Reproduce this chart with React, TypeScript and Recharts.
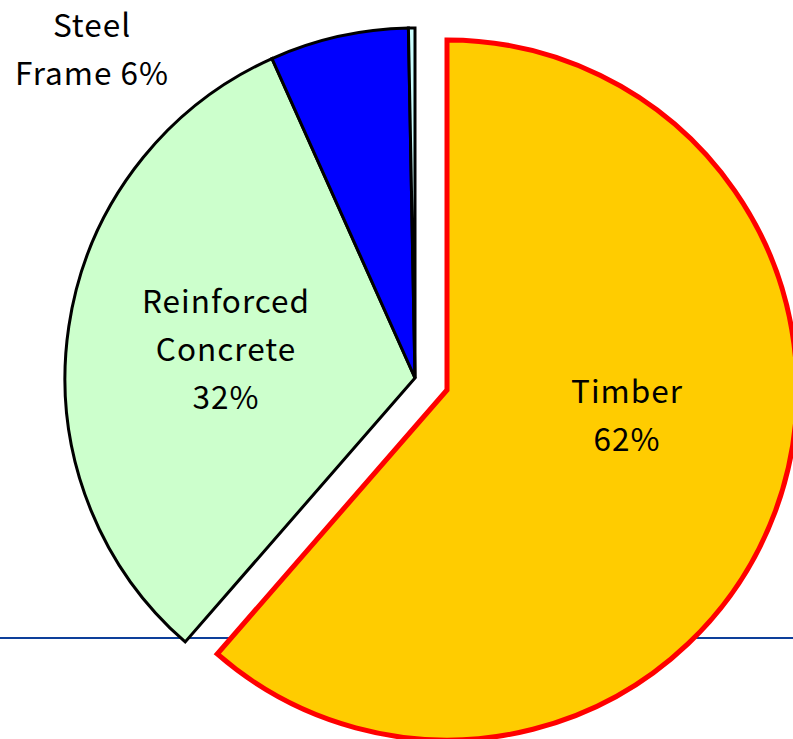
import React from 'react';
import { PieChart, Pie, Cell } from 'recharts';

// Structural share by building type
const CATEGORIES = ['Timber', 'Reinforced Concrete', 'Steel Frame', 'Other'];
const SHARES = [61.4, 31.9, 6.4, 0.3];
const LABEL_LINES = [['Timber', '62%'], ['Reinforced', 'Concrete', '32%'], ['Steel', 'Frame 6%'], []];

const FILLS = ['#ffcc00', '#ccffcc', '#0000ff', '#ccffff'];
const FONT = '"Noto Sans CJK JP", "Noto Sans", sans-serif';
const EXPLODED = 0; // timber slice pulled out

// label anchor offsets from each pie's centre: [dx, first baseline dy]
const LABEL_OFFSET: Record<number, [number, number]> = {
  0: [180, 13],
  1: [-189, -65],
  2: [-323, -341],
};
const LINE_H = 48;

const data = CATEGORIES.map((name, i) => ({ name, value: SHARES[i] }));

function renderLabel(show: (i: number) => boolean) {
  return (props: any) => {
    const { cx, cy, index } = props;
    if (!show(index) || !LABEL_OFFSET[index]) return null;
    const [dx, dy] = LABEL_OFFSET[index];
    return (
      <text
        key={`lbl-${index}`}
        x={cx + dx}
        y={cy + dy}
        textAnchor="middle"
        fill="#000"
        fontSize={31.5}
        letterSpacing={1}
        fontFamily={FONT}
      >
        {LABEL_LINES[index].map((t, j) => (
          <tspan key={j} x={cx + dx} dy={j === 0 ? 0 : LINE_H}>
            {t}
          </tspan>
        ))}
      </text>
    );
  };
}

export default function App() {
  return (
    <div style={{ position: 'absolute', left: 0, top: 0, width: 793, height: 739, overflow: 'hidden', background: '#fff' }}>
      {/* thin blue rule running behind the pie */}
      <div style={{ position: 'absolute', left: 0, top: 637, width: 793, height: 1.5, background: '#0d3f9a' }} />
      <PieChart width={793} height={739} margin={{ top: 0, right: 0, bottom: 0, left: 0 }} style={{ position: 'absolute', left: 0, top: 0 }}>
        <Pie
          data={data}
          dataKey="value"
          nameKey="name"
          cx={415}
          cy={378}
          outerRadius={350}
          startAngle={90}
          endAngle={-270}
          stroke="#000"
          strokeWidth={3}
          labelLine={false}
          label={renderLabel((i) => i !== EXPLODED)}
          isAnimationActive={false}
        >
          {data.map((_, i) => (
            <Cell key={i} fill={i === EXPLODED ? 'none' : FILLS[i]} stroke={i === EXPLODED ? 'none' : '#000'} />
          ))}
        </Pie>
        <Pie
          data={data}
          dataKey="value"
          nameKey="name"
          cx={447}
          cy={390}
          outerRadius={350}
          startAngle={90}
          endAngle={-270}
          labelLine={false}
          label={renderLabel((i) => i === EXPLODED)}
          isAnimationActive={false}
        >
          {data.map((_, i) => (
            <Cell
              key={i}
              fill={i === EXPLODED ? FILLS[i] : 'none'}
              stroke={i === EXPLODED ? '#ff0000' : 'none'}
              strokeWidth={i === EXPLODED ? 5 : 0}
            />
          ))}
        </Pie>
      </PieChart>
    </div>
  );
}
